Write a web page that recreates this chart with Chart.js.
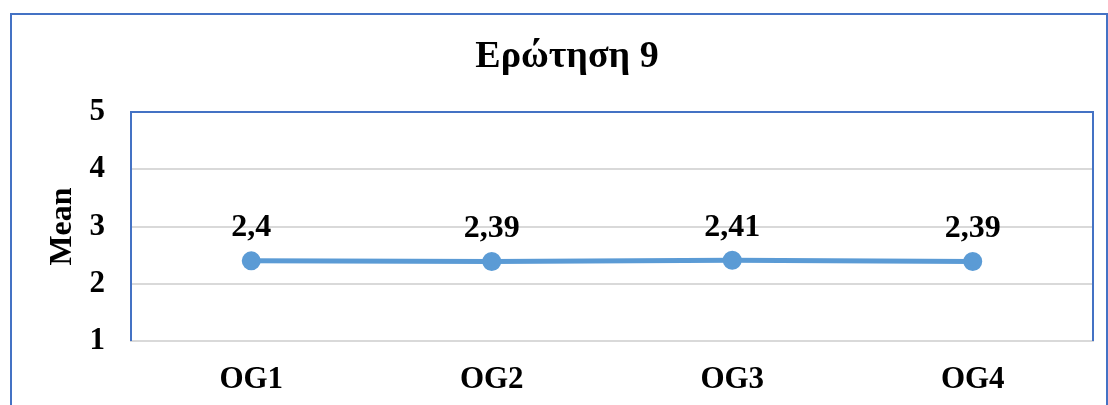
<!DOCTYPE html>
<html>
<head>
<meta charset="utf-8">
<script src="https://cdn.jsdelivr.net/npm/chart.js@4"></script>
<style>
body { margin: 0; background: #fff; }
#frame { position: absolute; left: 10px; top: 13px; width: 1094px; height: 420px; border: 2px solid #4472c4; }
#wrap { position: absolute; left: 0; top: 0; width: 1108px; height: 405px; }
</style>
</head>
<body>
<div id="frame"></div>
<div id="wrap"><canvas id="chart"></canvas></div>
<script>
// data
const categories = ["OG1", "OG2", "OG3", "OG4"];
const meanValues = [2.4, 2.39, 2.41, 2.39];
const yTicks = [1, 2, 3, 4, 5];
const chartTitle = "Ερώτηση 9";

const fontFamily = '"Liberation Serif", "Times New Roman", serif';
const lineColor = '#5b9bd5';

// title drawn by hand so it sits a bit right of the canvas centre like the original
const titlePlugin = {
    id: 'ownTitle',
    afterDraw(chart) {
        const ctx = chart.ctx;
        ctx.save();
        ctx.font = 'bold 38px ' + fontFamily;
        ctx.fillStyle = '#000';
        ctx.textAlign = 'center';
        ctx.textBaseline = 'middle';
        ctx.fillText(chartTitle, 567, 57);
        ctx.restore();
    }
};

// blue plot area box (top, left, right), bottom stays the grey axis line
const boxPlugin = {
    id: 'plotBox',
    beforeDatasetsDraw(chart) {
        const a = chart.chartArea;
        const ctx = chart.ctx;
        ctx.save();
        ctx.strokeStyle = '#4472c4';
        ctx.lineWidth = 2;
        ctx.beginPath();
        ctx.moveTo(a.left, a.bottom);
        ctx.lineTo(a.left, a.top);
        ctx.lineTo(a.right, a.top);
        ctx.lineTo(a.right, a.bottom);
        ctx.stroke();
        ctx.restore();
    }
};

// value labels above each point, comma decimal
const labelPlugin = {
    id: 'valueLabels',
    afterDatasetsDraw(chart) {
        const ctx = chart.ctx;
        const meta = chart.getDatasetMeta(0);
        ctx.save();
        ctx.font = 'bold 32px ' + fontFamily;
        ctx.fillStyle = '#000';
        ctx.textAlign = 'center';
        ctx.textBaseline = 'middle';
        meta.data.forEach((pt, i) => {
            const txt = String(meanValues[i]).replace('.', ',');
            ctx.fillText(txt, pt.x, pt.y - 33);
        });
        ctx.restore();
    }
};

new Chart(document.getElementById('chart'), {
    type: 'line',
    data: {
        labels: categories,
        datasets: [{
            label: 'Mean',
            data: meanValues,
            borderColor: lineColor,
            backgroundColor: lineColor,
            borderWidth: 5,
            pointRadius: 7,
            pointHoverRadius: 7,
            pointBackgroundColor: lineColor,
            pointBorderColor: lineColor,
            tension: 0
        }]
    },
    options: {
        responsive: true,
        maintainAspectRatio: false,
        animation: false,
        layout: { padding: { left: 0, right: 15, top: 112, bottom: 0 } },
        plugins: {
            legend: { display: false },
            tooltip: { enabled: false },
            title: { display: false }
        },
        scales: {
            x: {
                offset: true,
                grid: { display: false, drawTicks: false },
                border: { display: true, color: '#d9d9d9', width: 2 },
                ticks: {
                    color: '#000',
                    padding: 20,
                    font: { family: fontFamily, size: 31, weight: 'bold' }
                },
                afterFit(scale) { scale.height = 64; }
            },
            y: {
                min: 1,
                max: 5,
                afterBuildTicks(scale) { scale.ticks = yTicks.map(v => ({ value: v })); },
                grid: { color: '#d9d9d9', lineWidth: 2, drawTicks: false },
                border: { display: false },
                ticks: {
                    color: '#000',
                    padding: 26,
                    font: { family: fontFamily, size: 31, weight: 'bold' }
                },
                title: {
                    display: true,
                    text: 'Mean',
                    color: '#000',
                    padding: { top: 44, bottom: 0 },
                    font: { family: fontFamily, size: 32, weight: 'bold' }
                },
                afterFit(scale) { scale.width = 131; }
            }
        }
    },
    plugins: [titlePlugin, boxPlugin, labelPlugin]
});
</script>
</body>
</html>
